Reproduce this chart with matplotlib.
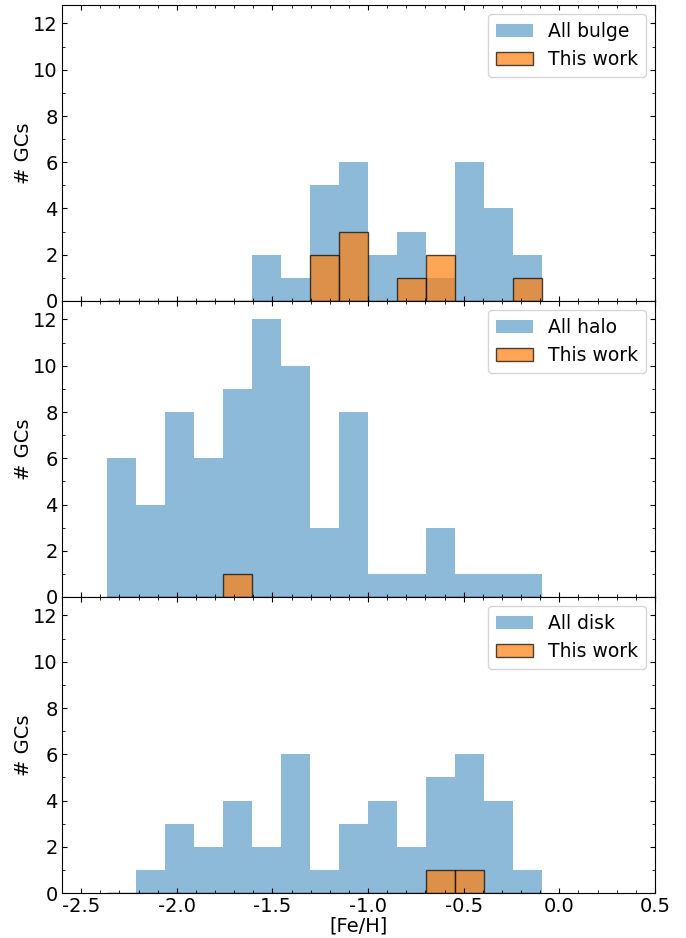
import numpy as np
import matplotlib
matplotlib.use("Agg")
import matplotlib.pyplot as plt
from matplotlib.ticker import MultipleLocator

plt.rcParams['axes.unicode_minus'] = False
plt.rcParams['font.size'] = 14

# --- Bins de [Fe/H] (comunes a las tres poblaciones) ---
bordes = np.linspace(-2.365, -0.09, 16)
centros = 0.5 * (bordes[:-1] + bordes[1:])

# --- Conteos por bin ---
bulbo_todos = [0, 0, 0, 0, 0, 2, 1, 5, 6, 2, 3, 1, 6, 4, 2]
bulbo_trabajo = [0, 0, 0, 0, 0, 0, 0, 2, 3, 0, 1, 2, 0, 0, 1]

halo_todos = [6, 4, 8, 6, 9, 12, 10, 3, 8, 1, 1, 3, 1, 1, 1]
halo_trabajo = [0, 0, 0, 0, 1, 0, 0, 0, 0, 0, 0, 0, 0, 0, 0]

disco_todos = [0, 1, 3, 2, 4, 2, 6, 1, 3, 4, 2, 5, 6, 4, 1]
disco_trabajo = [0, 0, 0, 0, 0, 0, 0, 0, 0, 0, 0, 1, 1, 0, 0]

paneles = [
    ("All bulge", bulbo_todos, bulbo_trabajo),
    ("All halo", halo_todos, halo_trabajo),
    ("All disk", disco_todos, disco_trabajo),
]

fig, axes = plt.subplots(3, 1, figsize=(6.86, 9.38), dpi=100, sharex=True)
fig.subplots_adjust(left=62/686, right=655/686, top=1-5/938,
                    bottom=1-893/938, hspace=0)

for ax, (etiqueta, todos, trabajo) in zip(axes, paneles):
    # barras ligeramente solapadas: deja una costura mas oscura entre bins
    ax.hist(centros, bins=bordes, weights=todos, color='C0', alpha=0.5,
            rwidth=1.035, label=etiqueta)
    ax.hist(centros, bins=bordes, weights=trabajo, color='C1', alpha=0.7,
            edgecolor='k', label='This work')
    ax.set_ylim(0, 12.8)
    ax.set_xlim(-2.6, 0.5)
    ax.set_ylabel('# GCs', labelpad=0)
    ax.yaxis.set_major_locator(MultipleLocator(2))
    ax.yaxis.set_minor_locator(MultipleLocator(1))
    ax.xaxis.set_major_locator(MultipleLocator(0.5))
    ax.xaxis.set_minor_locator(MultipleLocator(0.1))
    ax.tick_params(which='both', direction='in', top=True, right=True)
    ax.tick_params(which='major', pad=3)
    ax.legend(loc='upper right', fontsize=13.5)

axes[-1].set_xlabel('[Fe/H]', labelpad=0)
axes[-1].xaxis.set_major_formatter(lambda x, pos: f"{x:.1f}")

fig.savefig('out.png', dpi=100)
